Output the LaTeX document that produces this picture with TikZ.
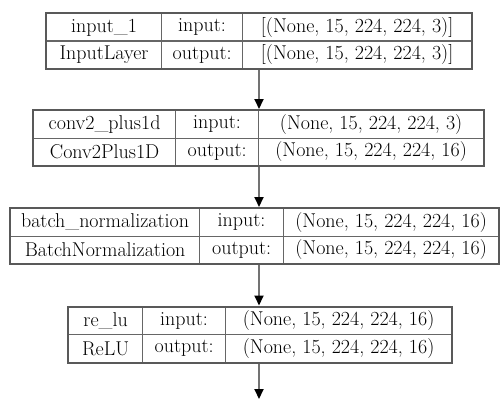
\documentclass[tikz,border=0pt]{standalone}
\usetikzlibrary{positioning,fit,arrows.meta}

\begin{document}
\begin{tikzpicture}[x=1pt,y=-1pt]
            \tikzstyle{cell}  = [draw=black!60, line width=1.2pt, anchor=north west, inner sep=0pt,
                                 minimum height=27.5pt, font=\rmfamily\fontsize{20}{24}\selectfont]
            \tikzstyle{frame} = [draw=black!65, line width=2pt, inner sep=0pt]
            \tikzstyle{flow}  = [draw=black!55, line width=2pt, -{Triangle[length=10pt,width=9pt,color=black]}]

            \useasboundingbox (0,0) rectangle (502,401);

            % input_1
            \node[cell, minimum width=115pt] (input1name) at (46,13) {input\_1};
            \node[cell, minimum width=81pt] (input1in) at (161,13) {input:};
            \node[cell, minimum width=229pt] (input1inshape) at (242,13) {[(None, 15, 224, 224, 3)]};
            \node[cell, minimum width=115pt] (input1type) at (46,40.5) {InputLayer};
            \node[cell, minimum width=81pt] (input1out) at (161,40.5) {output:};
            \node[cell, minimum width=229pt] (input1outshape) at (242,40.5) {[(None, 15, 224, 224, 3)]};
            \node[frame, fit=(input1name)(input1outshape)] (input1) {};

            % conv2_plus1d
            \node[cell, minimum width=142pt] (convname) at (33,110) {conv2\_plus1d};
            \node[cell, minimum width=83pt] (convin) at (175,110) {input:};
            \node[cell, minimum width=225pt] (convinshape) at (258,110) {(None, 15, 224, 224, 3)};
            \node[cell, minimum width=142pt] (convtype) at (33,137.5) {Conv2Plus1D};
            \node[cell, minimum width=83pt] (convout) at (175,137.5) {output:};
            \node[cell, minimum width=225pt] (convoutshape) at (258,137.5) {(None, 15, 224, 224, 16)};
            \node[frame, fit=(convname)(convoutshape)] (conv) {};

            % batch_normalization
            \node[cell, minimum width=189pt] (bnname) at (10,208) {batch\_normalization};
            \node[cell, minimum width=84pt] (bnin) at (199,208) {input:};
            \node[cell, minimum width=215pt] (bninshape) at (283,208) {(None, 15, 224, 224, 16)};
            \node[cell, minimum width=189pt] (bntype) at (10,235.5) {BatchNormalization};
            \node[cell, minimum width=84pt] (bnout) at (199,235.5) {output:};
            \node[cell, minimum width=215pt] (bnoutshape) at (283,235.5) {(None, 15, 224, 224, 16)};
            \node[frame, fit=(bnname)(bnoutshape)] (bn) {};

            % re_lu
            \node[cell, minimum width=74pt] (reluname) at (68,306.5) {re\_lu};
            \node[cell, minimum width=83pt] (reluin) at (142,306.5) {input:};
            \node[cell, minimum width=226pt] (reluinshape) at (225,306.5) {(None, 15, 224, 224, 16)};
            \node[cell, minimum width=74pt] (relutype) at (68,334) {ReLU};
            \node[cell, minimum width=83pt] (reluout) at (142,334) {output:};
            \node[cell, minimum width=226pt] (reluoutshape) at (225,334) {(None, 15, 224, 224, 16)};
            \node[frame, fit=(reluname)(reluoutshape)] (relu) {};

            % arrows run down one column
            \coordinate (spine) at (259,0);
            \coordinate (next) at (259,399);

            \draw[flow] (input1.south -| spine) -- (conv.north -| spine);
            \draw[flow] (conv.south -| spine) -- (bn.north -| spine);
            \draw[flow] (bn.south -| spine) -- (relu.north -| spine);
            \draw[flow] (relu.south -| spine) -- (next);
        \end{tikzpicture}
\end{document}
